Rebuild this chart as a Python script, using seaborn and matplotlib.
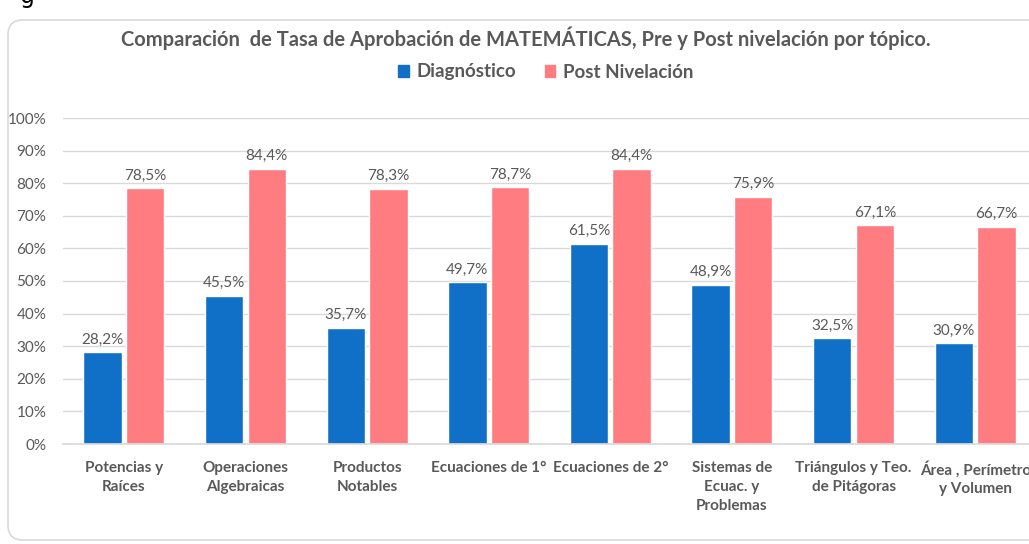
import pandas as pd
import matplotlib.pyplot as plt
import seaborn as sns
from matplotlib.patches import FancyBboxPatch
from matplotlib.ticker import PercentFormatter

# tasa de aprobacion por topico
topicos = ["Potencias y\nRaíces", "Operaciones\nAlgebraicas", "Productos\nNotables",
           "Ecuaciones de 1°", "Ecuaciones de 2°", "Sistemas de\nEcuac. y\nProblemas",
           "Triángulos y Teo.\nde Pitágoras", "Área , Perímetro\ny Volumen"]
diagnostico = [28.2, 45.5, 35.7, 49.7, 61.5, 48.9, 32.5, 30.9]
post_nivelacion = [78.5, 84.4, 78.3, 78.7, 84.4, 75.9, 67.1, 66.7]
series = ["Diagnóstico", "Post Nivelación"]
colores = ["#1070C8", "#FF7C80"]

df = pd.DataFrame({
    "topico": topicos * 2,
    "serie": [series[0]] * len(topicos) + [series[1]] * len(topicos),
    "tasa": diagnostico + post_nivelacion,
})

sns.set_theme(style="white")
plt.rcParams["font.family"] = ["Lato", "DejaVu Sans"]
gris = "#595959"

fig = plt.figure(figsize=(10.29, 5.44), dpi=100)
ax = fig.add_axes([63 / 1029, 100 / 544, 973 / 1029, 326 / 544])

# marco redondeado del grafico
marco = FancyBboxPatch((0.08, 0.04), 10.6, 5.2, boxstyle="round,pad=0,rounding_size=0.15",
                       transform=fig.dpi_scale_trans, facecolor="white",
                       edgecolor="#D9D9D9", linewidth=1.2, zorder=-10)
fig.patches.append(marco)

sns.barplot(data=df, x="topico", y="tasa", hue="serie", order=topicos,
            hue_order=series, palette=colores, width=0.7, gap=0.1,
            saturation=1, ax=ax, legend=False)

for cont in ax.containers:
    etiquetas = [f"{b.get_height():.1f}%".replace(".", ",") for b in cont]
    ax.bar_label(cont, labels=etiquetas, padding=4, fontsize=11, color=gris)

ax.set_ylim(0, 100)
ax.set_xlim(-0.5, len(topicos) - 0.5)
ax.set_yticks(range(0, 101, 10))
ax.yaxis.set_major_formatter(PercentFormatter(decimals=0))
ax.grid(axis="y", color="#D9D9D9", linewidth=1)
ax.set_axisbelow(True)
for lado in ["top", "right", "left"]:
    ax.spines[lado].set_visible(False)
ax.spines["bottom"].set_color("#D9D9D9")
ax.tick_params(axis="y", length=0, pad=12, labelsize=11, labelcolor=gris)
ax.tick_params(axis="x", length=0, pad=12, labelsize=11, labelcolor=gris)
for t in ax.get_xticklabels():
    t.set_fontweight("bold")
    t.set_linespacing(1.45)
ax.set_xlabel("")
ax.set_ylabel("")
ax.patch.set_alpha(0)

fig.text(526 / 1029, 1 - 38 / 544,
         "Comparación  de Tasa de Aprobación de MATEMÁTICAS, Pre y Post nivelación por tópico.",
         ha="center", va="center", fontsize=14.5, fontweight="bold", color=gris)

handles = [plt.Rectangle((0, 0), 1, 1, color=c) for c in colores]
fig.legend(handles, series, loc="center", bbox_to_anchor=(546 / 1029, 1 - 72 / 544),
           ncol=2, frameon=False, handlelength=0.55, handleheight=0.55,
           handletextpad=0.45, columnspacing=1.5,
           prop={"size": 13.5, "weight": "bold"}, labelcolor=gris)

# resto de texto del documento, cortado arriba
fig.text(20 / 1029, 1 - 3 / 544, "g", fontsize=17, color="black", va="baseline",
         family="DejaVu Sans")

fig.savefig("out.png", dpi=100)
